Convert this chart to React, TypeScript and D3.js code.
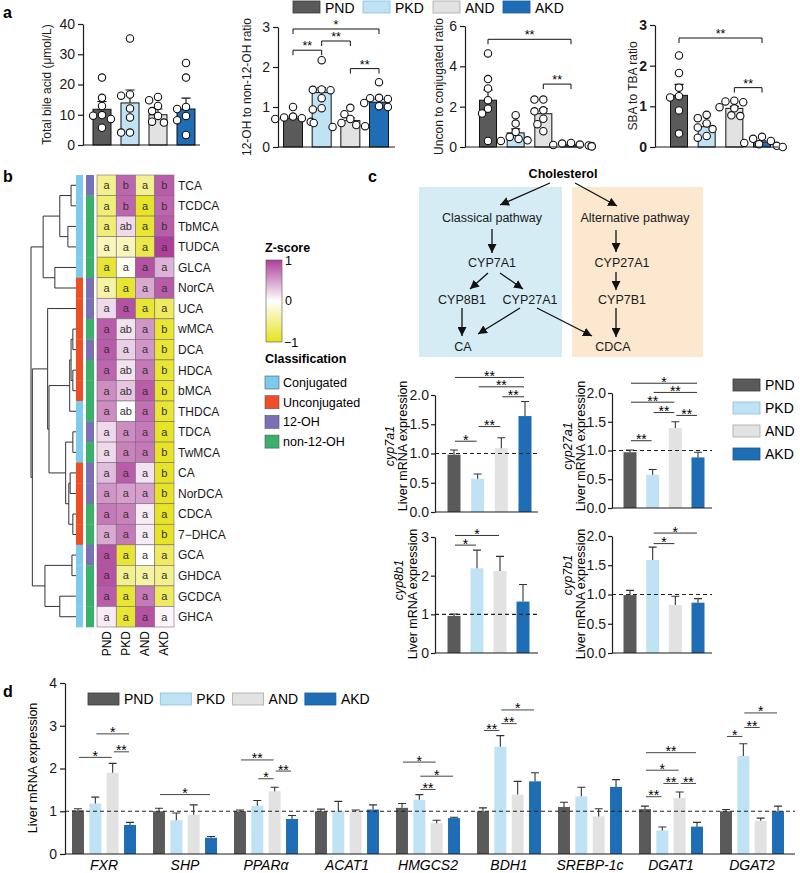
import React, { useEffect, useRef } from 'react';
import * as d3 from 'd3';

const FONT = 'Arial, "Liberation Sans", Helvetica, sans-serif';

const groups = ['PND', 'PKD', 'AND', 'AKD'];
const groupFill = ['#5a5a5a', '#bfe3f5', '#e2e2e2', '#1f6db4'];
const groupEdge = ['#3a3a3a', '#8dbdd6', '#a8a8a8', '#17599a'];

type Sig = [number, number, number, string];

// a - serum bile acids
const tbaMean = [11.8, 13.9, 10.0, 11.9];
const tbaSem = [2.6, 4.3, 1.9, 3.6];
const tbaDots = [
  [22.3, 15.6, 12.9, 9.9, 9.7, 8.6, 5.7],
  [35.2, 16.7, 16.3, 12.1, 9.1, 4.1, 4.1],
  [15.9, 14.8, 12.9, 11.2, 9.6, 7.7, 7.4],
  [27.1, 22.3, 12.6, 11.9, 9.6, 8.2, 3.3],
];
const ohMean = [0.72, 1.36, 0.66, 1.12];
const ohSem = [0.05, 0.12, 0.07, 0.07];
const ohDots = [
  [1.0, 0.76, 0.74, 0.72, 0.7, 0.63, 0.6],
  [2.17, 1.44, 1.43, 1.42, 1.22, 0.97, 0.94],
  [0.98, 0.82, 0.7, 0.6, 0.55, 0.52, 0.5],
  [1.62, 1.23, 1.22, 1.2, 1.1, 1.02, 1.0],
];
const ohSig: Sig[] = [[0, 3, 2.95, '*'], [0, 1, 2.42, '**'], [1, 2, 2.65, '**'], [2, 3, 1.96, '**']];
const unconMean = [2.32, 0.7, 1.65, 0.1];
const unconSem = [0.5, 0.2, 0.25, 0.03];
const unconDots = [
  [4.64, 3.37, 2.9, 2.32, 1.9, 1.66, 0.3],
  [1.58, 1.16, 0.75, 0.5, 0.4, 0.33, 0.3],
  [2.35, 2.35, 1.82, 1.77, 1.4, 1.13, 0.78],
  [0.2, 0.17, 0.12, 0.1, 0.08, 0.05, 0.03],
];
const unconSig: Sig[] = [[0, 3, 5.34, '**'], [2, 3, 3.12, '**']];
const sbaMean = [1.27, 0.5, 0.95, 0.12];
const sbaSem = [0.27, 0.08, 0.05, 0.03];
const sbaDots = [
  [2.25, 1.82, 1.46, 1.25, 1.22, 0.9, 0.33],
  [0.79, 0.71, 0.58, 0.48, 0.44, 0.27, 0.23],
  [1.14, 1.12, 1.1, 0.98, 0.95, 0.78, 0.76],
  [0.25, 0.2, 0.15, 0.1, 0.07, 0.03, 0.0],
];
const sbaSig: Sig[] = [[0, 3, 2.68, '**'], [2, 3, 1.46, '**']];

// b - heatmap
const baNames = ['TCA', 'TCDCA', 'TbMCA', 'TUDCA', 'GLCA', 'NorCA', 'UCA', 'wMCA', 'DCA', 'HDCA', 'bMCA', 'THDCA',
  'TDCA', 'TwMCA', 'CA', 'NorDCA', 'CDCA', '7\u2212DHCA', 'GCA', 'GHDCA', 'GCDCA', 'GHCA'];
const baZ = [
  [-0.5, 0.8, -0.5, 0.85], [-0.6, 0.8, -0.95, 0.8], [-0.6, 0.2, -0.9, 0.85], [-0.3, -0.3, -0.8, 1.0],
  [-0.9, -0.05, 0.9, 0.4], [-0.4, -0.9, 0.45, 0.85], [0.2, 0.9, -0.9, -0.7], [0.85, 0.15, 0.55, -0.9],
  [0.85, 0.25, 0.55, -0.9], [0.8, 0.15, 0.7, -0.9], [0.6, 0.3, 0.85, -0.9], [0.6, 0.0, 0.75, -0.9],
  [0.2, 0.6, 0.7, -0.95], [0.2, 0.65, 0.7, -0.95], [0.35, 0.85, 0.15, -0.95], [0.55, 0.5, 0.5, -0.95],
  [0.7, 0.65, 0.1, -0.95], [0.45, 0.7, 0.1, -0.95], [0.9, -0.9, 0.0, -0.7], [0.9, -0.5, -0.4, -0.5],
  [0.85, -0.9, 0.7, -0.7], [0.1, -0.9, 0.9, 0.05],
];
const baLetters = ['a b a b', 'a b a b', 'a ab a b', 'a a a a', 'a a a a', 'a a a a', 'a a a a', 'a ab a b',
  'a a a b', 'a ab a b', 'a ab a b', 'a ab a b', 'a a a a', 'a a a b', 'a a a b', 'a a a b', 'a a a a',
  'a a a b', 'a a a a', 'a a a a', 'a a a a', 'a a a a'];
const baConj = 'CCCCCUUUUUUCCCUUUUCCCC'.split('');
const baOH = ['12', 'n', 'n', 'n', 'n', '12', '12', 'n', '12', 'n', 'n', 'n', '12', 'n', '12', '12', 'n', 'n', '12', 'n', 'n', 'n'];
// hclust-style merges: negative = leaf (1-based), positive = earlier merge; third = height
const baMerge: [number, number, number][] = [
  [-1, -2, 0.11], [-3, -4, 0.18], [1, 2, 0.36], [-5, -6, 0.47], [3, 4, 0.73],
  [-8, -9, 0.07], [-10, -11, 0.07], [6, 7, 0.11], [8, -12, 0.14],
  [-13, -14, 0.07], [-15, -16, 0.13], [-17, -18, 0.07], [11, 12, 0.16], [10, 13, 0.23],
  [9, 14, 0.6], [-7, 15, 0.63], [-19, -20, 0.09], [-21, -22, 0.36], [17, 18, 0.69],
  [16, 19, 0.97], [5, 20, 1.0],
];
const classLabels = ['Conjugated', 'Unconjugated', '12-OH', 'non-12-OH'];
const classColors = ['#7ccaec', '#ef4e25', '#7a70b5', '#3bb06a'];

// c - hepatic bile acid synthesis genes
const cyp7a1Mean = [0.98, 0.57, 1.09, 1.64];
const cyp7a1Sem = [0.08, 0.08, 0.18, 0.25];
const cyp7a1Sig: Sig[] = [[0, 1, 1.21, '*'], [1, 2, 1.46, '**'], [2, 3, 1.97, '**'], [1, 3, 2.14, '**'], [0, 3, 2.3, '**']];
const cyp27a1Mean = [0.97, 0.58, 1.39, 0.88];
const cyp27a1Sem = [0.04, 0.09, 0.11, 0.09];
const cyp27a1Sig: Sig[] = [[0, 1, 1.17, '**'], [2, 3, 1.61, '**'], [1, 2, 1.66, '**'], [0, 2, 1.84, '**'], [1, 3, 2.01, '**'], [0, 3, 2.17, '*']];
const cyp8b1Mean = [0.96, 2.19, 2.12, 1.33];
const cyp8b1Sem = [0.05, 0.47, 0.38, 0.44];
const cyp8b1Sig: Sig[] = [[0, 1, 2.79, '*'], [0, 2, 3.04, '*']];
const cyp7b1Mean = [0.99, 1.59, 0.82, 0.86];
const cyp7b1Sem = [0.08, 0.22, 0.15, 0.07];
const cyp7b1Sig: Sig[] = [[1, 2, 1.87, '*'], [1, 3, 2.05, '*']];

// d - lipid / bile acid genes
const genes = ['FXR', 'SHP', 'PPAR\u03b1', 'ACAT1', 'HMGCS2', 'BDH1', 'SREBP-1c', 'DGAT1', 'DGAT2'];
const geneMean = [
  [1.02, 1.18, 1.9, 0.68], [1.0, 0.79, 0.92, 0.38], [1.0, 1.13, 1.47, 0.82], [1.0, 1.0, 1.0, 1.04],
  [1.08, 1.27, 0.72, 0.84], [1.0, 2.51, 1.39, 1.7], [1.1, 1.35, 0.88, 1.57], [1.05, 0.55, 1.31, 0.64],
  [1.0, 2.29, 0.78, 1.0],
];
const geneSem = [
  [0.04, 0.15, 0.22, 0.06], [0.07, 0.17, 0.23, 0.03], [0.03, 0.12, 0.09, 0.08], [0.05, 0.23, 0.03, 0.11],
  [0.1, 0.12, 0.07, 0.02], [0.08, 0.26, 0.31, 0.2], [0.11, 0.21, 0.18, 0.17], [0.07, 0.08, 0.14, 0.1],
  [0.04, 0.29, 0.06, 0.12],
];
const geneSig: [number, number, number, number, string][] = [
  [0, 0, 2, 2.26, '*'], [0, 2, 3, 2.39, '**'], [0, 1, 3, 2.81, '*'],
  [1, 0, 3, 1.39, '*'],
  [2, 1, 2, 1.76, '*'], [2, 2, 3, 1.94, '**'], [2, 0, 2, 2.2, '**'],
  [4, 1, 2, 1.51, '**'], [4, 1, 3, 1.82, '*'], [4, 0, 2, 2.15, '*'],
  [5, 0, 1, 2.89, '**'], [5, 1, 2, 3.05, '**'], [5, 1, 3, 3.37, '*'],
  [7, 0, 1, 1.34, '**'], [7, 1, 2, 1.65, '**'], [7, 2, 3, 1.65, '**'], [7, 0, 2, 1.96, '*'], [7, 0, 3, 2.37, '**'],
  [8, 0, 1, 2.75, '*'], [8, 1, 2, 2.96, '**'], [8, 1, 3, 3.3, '*'],
];

const intFmt = d3.format('d');
const oneDec = d3.format('.1f');

function AxisLeft({ scale, x, ticks, format, size = 14, bold = false, tick = 5, pad = 3 }: any) {
  const ref = useRef<SVGGElement>(null);
  useEffect(() => {
    if (!ref.current) return;
    const axis = d3.axisLeft(scale).tickValues(ticks).tickSize(tick).tickSizeOuter(0).tickPadding(pad);
    if (format) axis.tickFormat(format);
    const g = d3.select(ref.current).call(axis);
    g.attr('font-family', FONT).attr('font-size', size);
    g.selectAll('text').attr('fill', '#1a1a1a').attr('font-weight', bold ? 'bold' : 'normal');
    g.selectAll('path,line').attr('stroke', '#1a1a1a').attr('stroke-width', 1.2);
  });
  return <g ref={ref} transform={`translate(${x},0)`} />;
}

function swarm(vals: number[], y: any, cx: number, r: number) {
  const placed: { x: number; y: number }[] = [];
  vals.map((v) => y(v)).sort((a, b) => a - b).forEach((py) => {
    let px = cx;
    for (let k = 0; k < 15; k++) {
      const off = k === 0 ? 0 : (k % 2 ? -1 : 1) * Math.ceil(k / 2) * r * 0.8;
      px = cx + off;
      if (placed.every((q) => (q.x - px) ** 2 + (q.y - py) ** 2 >= (2 * r) ** 2)) break;
    }
    placed.push({ x: px, y: py });
  });
  return placed;
}

function DotBarChart({ axisX, xEnd, first, last, barW, y0, y1, max, ticks, mean, sem, dots, sig = [], title, titleX, bold }: any) {
  const y = d3.scaleLinear().domain([0, max]).range([y0, y1]);
  const x = d3.scalePoint().domain(groups).range([first, last]);
  return (
    <g>
      {mean.map((m: number, i: number) => {
        const cx = x(groups[i])!;
        const top = y(m + sem[i]);
        return (
          <g key={i}>
            <rect x={cx - barW / 2} y={y(m)} width={barW} height={y(0) - y(m)} fill={groupFill[i]} stroke="#111" strokeWidth={1} />
            <path d={`M${cx},${y(m)}V${top}M${cx - 4.5},${top}H${cx + 4.5}`} stroke="#111" strokeWidth={1.1} fill="none" />
          </g>
        );
      })}
      {dots.map((vals: number[], i: number) =>
        swarm(vals, y, x(groups[i])!, 3.7).map((p, j) => (
          <circle key={`${i}-${j}`} cx={p.x} cy={p.y} r={3.7} fill="#fff" stroke="#111" strokeWidth={1.1} />
        )),
      )}
      <line x1={axisX} x2={xEnd} y1={y0} y2={y0} stroke="#1a1a1a" strokeWidth={1.2} />
      <AxisLeft scale={y} x={axisX} ticks={ticks} bold={bold} format={intFmt} />
      {sig.map(([a, b, v, lab]: Sig, k: number) => {
        const xa = x(groups[a])!;
        const xb = x(groups[b])!;
        const yl = y(v);
        return (
          <g key={k}>
            <path d={`M${xa},${yl + 5}V${yl}H${xb}V${yl + 5}`} stroke="#111" strokeWidth={1} fill="none" />
            <text x={(xa + xb) / 2} y={yl} textAnchor="middle" fontSize={12.5} fontFamily={FONT}>{lab}</text>
          </g>
        );
      })}
      <text transform={`translate(${titleX},${(y0 + y1) / 2}) rotate(-90)`} textAnchor="middle" fontSize={12} fontFamily={FONT} fill="#1a1a1a">{title}</text>
    </g>
  );
}

function ExprChart({ axisX, xEnd, first, last, y0, y1, max, ticks, fmt, mean, sem, sig, gene, geneX, titleX, geneY, titleY }: any) {
  const y = d3.scaleLinear().domain([0, max]).range([y0, y1]);
  const x = d3.scalePoint().domain(groups).range([first, last]);
  const barW = 13;
  return (
    <g>
      {mean.map((m: number, i: number) => {
        const cx = x(groups[i])!;
        const top = y(m + sem[i]);
        return (
          <g key={i}>
            <rect x={cx - barW / 2} y={y(m)} width={barW} height={y(0) - y(m)} fill={groupFill[i]} />
            <path d={`M${cx},${y(m)}V${top}M${cx - 4},${top}H${cx + 4}`} stroke="#333" strokeWidth={1.1} fill="none" />
          </g>
        );
      })}
      <line x1={axisX} x2={xEnd} y1={y(1)} y2={y(1)} stroke="#222" strokeWidth={1.1} strokeDasharray="4,3" />
      <line x1={axisX} x2={xEnd} y1={y0} y2={y0} stroke="#1a1a1a" strokeWidth={1.2} />
      <AxisLeft scale={y} x={axisX} ticks={ticks} format={fmt} tick={4} pad={2} />
      {sig.map(([a, b, v, lab]: Sig, k: number) => {
        const xa = x(groups[a])!;
        const xb = x(groups[b])!;
        const yl = y(v);
        return (
          <g key={k}>
            <line x1={xa + 1} x2={xb - 1} y1={yl} y2={yl} stroke="#333" strokeWidth={1} />
            <text x={(xa + xb) / 2} y={yl + 3.5} textAnchor="middle" fontSize={14} fontFamily={FONT}>{lab}</text>
          </g>
        );
      })}
      <text transform={`translate(${geneX},${geneY}) rotate(-90)`} textAnchor="middle" fontSize={12.5} fontStyle="italic" fontFamily={FONT}>{gene}</text>
      <text transform={`translate(${titleX},${titleY}) rotate(-90)`} textAnchor="middle" fontSize={12.5} fontFamily={FONT}>Liver mRNA expression</text>
    </g>
  );
}

function Heatmap() {
  const x = d3.scaleBand().domain(groups).range([97, 174]);
  const rows = d3.scaleBand().domain(baNames).range([175, 627]);
  const z = d3.scaleLinear<string>().domain([-1, 0, 1]).range(['#e6e21c', '#ffffff', '#ad3f9a']);
  const hx = d3.scaleLinear().domain([0, 1]).range([76, 31]);
  // dendrogram from merge table
  const nodes: { y: number; h: number }[] = [];
  const segs: string[] = [];
  const ref = (k: number) => (k < 0 ? { y: rows(baNames[-k - 1])! + rows.bandwidth() / 2, h: 0 } : nodes[k - 1]);
  baMerge.forEach(([a, b, h]) => {
    const na = ref(a);
    const nb = ref(b);
    const xn = hx(h);
    segs.push(`M${hx(na.h)},${na.y}H${xn}V${nb.y}H${hx(nb.h)}`);
    nodes.push({ y: (na.y + nb.y) / 2, h });
  });
  return (
    <g fontFamily={FONT}>
      {segs.map((d, i) => <path key={i} d={d} fill="none" stroke="#333" strokeWidth={1} />)}
      {baNames.map((n, r) => (
        <g key={n}>
          <rect x={76} y={rows(n)} width={7} height={rows.bandwidth() + 0.3} fill={baConj[r] === 'C' ? classColors[0] : classColors[1]} />
          <rect x={86} y={rows(n)} width={8} height={rows.bandwidth() + 0.3} fill={baOH[r] === '12' ? classColors[2] : classColors[3]} />
          {groups.map((g, c) => (
            <g key={g}>
              <rect x={x(g)} y={rows(n)} width={x.bandwidth()} height={rows.bandwidth()} fill={z(baZ[r][c])} stroke="#7a6a7a" strokeWidth={0.6} />
              <text x={x(g)! + x.bandwidth() / 2} y={rows(n)! + rows.bandwidth() / 2} dy="0.35em" textAnchor="middle" fontSize={11} fill="#333">{baLetters[r].split(' ')[c]}</text>
            </g>
          ))}
          <text x={178} y={rows(n)! + rows.bandwidth() / 2} dy="0.36em" fontSize={12} fill="#1a1a1a">{n}</text>
        </g>
      ))}
      {groups.map((g) => (
        <text key={g} transform={`translate(${x(g)! + x.bandwidth() / 2 + 4},${631}) rotate(-90)`} textAnchor="end" fontSize={12}>{g}</text>
      ))}
      <defs>
        <linearGradient id="zgrad" x1="0" y1="0" x2="0" y2="1">
          <stop offset="0%" stopColor={z(1)} />
          <stop offset="50%" stopColor={z(0)} />
          <stop offset="100%" stopColor={z(-1)} />
        </linearGradient>
      </defs>
      <text x={265} y={252} fontSize={12.5} fontWeight="bold">Z-score</text>
      <rect x={266} y={260} width={16} height={82} fill="url(#zgrad)" stroke="#555" strokeWidth={0.6} />
      <text x={285} y={265} fontSize={12.5}>1</text>
      <text x={285} y={305} fontSize={12.5}>0</text>
      <text x={284} y={347} fontSize={12.5}>{'\u22121'}</text>
      <text x={265} y={363} fontSize={12.5} fontWeight="bold">Classification</text>
      {classLabels.map((l, i) => (
        <g key={l}>
          <rect x={265} y={376 + i * 19.7} width={14} height={13} fill={classColors[i]} stroke="#555" strokeWidth={0.6} />
          <text x={283} y={387 + i * 19.7} fontSize={12.5}>{l}</text>
        </g>
      ))}
    </g>
  );
}

function Pathway() {
  const arrows: [number, number, number, number][] = [
    [550, 183, 500, 205], [575, 183, 617, 206], [492, 229, 492, 253], [488, 273, 470, 289],
    [500, 273, 523, 289], [462, 308, 462, 336], [520, 308, 478, 334], [537, 308, 592, 336],
    [616, 230, 616, 252], [616, 272, 616, 290], [616, 308, 616, 337],
  ];
  const labels: [string, number, number][] = [
    ['Classical pathway', 492, 218], ['Alternative pathway', 635, 218], ['CYP7A1', 492, 263],
    ['CYP8B1', 462, 300], ['CYP27A1', 530, 300], ['CA', 463, 347], ['CDCA', 613, 347],
    ['CYP27A1', 622, 263], ['CYP7B1', 622, 300],
  ];
  return (
    <g fontFamily={FONT}>
      <defs>
        <marker id="ah" viewBox="0 0 10 10" refX="10" refY="5" markerWidth="9" markerHeight="9" markerUnits="userSpaceOnUse" orient="auto">
          <path d="M0,0L10,5L0,10z" fill="#111" />
        </marker>
      </defs>
      <rect x={419} y={187} width={143} height={170} fill="#d5ecf5" />
      <rect x={572} y={187} width={131} height={170} fill="#fce7cf" />
      <text x={563} y={174} dy="0.35em" textAnchor="middle" fontSize={12.5} fontWeight="bold">Cholesterol</text>
      {labels.map(([t, lx, ly], i) => (
        <text key={i} x={lx} y={ly} dy="0.35em" textAnchor="middle" fontSize={12.5} fill="#1a1a1a">{t}</text>
      ))}
      {arrows.map(([x1, y1, x2, y2], i) => (
        <line key={i} x1={x1} y1={y1} x2={x2} y2={y2} stroke="#111" strokeWidth={1.3} markerEnd="url(#ah)" />
      ))}
    </g>
  );
}

function GeneChart() {
  const x0 = d3.scaleBand().domain(genes).range([63.5, 792.5]);
  const x1 = d3.scaleBand().domain(groups).range([8.5, 72.5]).paddingInner(0.31);
  const y = d3.scaleLinear().domain([0, 4]).range([854, 683]);
  const cx = (g: number, k: number) => x0(genes[g])! + x1(groups[k])! + x1.bandwidth() / 2;
  return (
    <g fontFamily={FONT}>
      {genes.map((g, gi) => (
        <g key={g}>
          {groups.map((grp, k) => {
            const m = geneMean[gi][k];
            const top = y(m + geneSem[gi][k]);
            const c = cx(gi, k);
            return (
              <g key={grp}>
                <rect x={c - x1.bandwidth() / 2} y={y(m)} width={x1.bandwidth()} height={y(0) - y(m)} fill={groupFill[k]} />
                <path d={`M${c},${y(m)}V${top}M${c - 4},${top}H${c + 4}`} stroke="#333" strokeWidth={1.1} fill="none" />
              </g>
            );
          })}
          <text x={x0(g)! + 40.5} y={870} textAnchor="middle" fontSize={14} fontStyle="italic">{g}</text>
        </g>
      ))}
      <line x1={65} x2={795} y1={y(1)} y2={y(1)} stroke="#222" strokeWidth={1.1} strokeDasharray="4,3" />
      <line x1={65} x2={795} y1={y(0)} y2={y(0)} stroke="#1a1a1a" strokeWidth={1.2} />
      <AxisLeft scale={y} x={65} ticks={[0, 1, 2, 3, 4]} format={intFmt} />
      {geneSig.map(([g, a, b, v, lab], k) => {
        const xa = cx(g, a);
        const xb = cx(g, b);
        return (
          <g key={k}>
            <line x1={xa + 1} x2={xb - 1} y1={y(v)} y2={y(v)} stroke="#444" strokeWidth={1} />
            <text x={(xa + xb) / 2} y={y(v) + 3.5} textAnchor="middle" fontSize={14}>{lab}</text>
          </g>
        );
      })}
      <text transform={`translate(37,768) rotate(-90)`} textAnchor="middle" fontSize={12.5}>Liver mRNA expression</text>
      {groups.map((grp, k) => (
        <g key={grp}>
          <rect x={88 + k * 72.3} y={693} width={31} height={12} fill={groupFill[k]} stroke={groupEdge[k]} strokeWidth={0.8} />
          <text x={124 + k * 72.3} y={704} fontSize={14}>{grp}</text>
        </g>
      ))}
    </g>
  );
}

export default function App() {
  return (
    <div style={{ position: 'absolute', left: 0, top: 0 }}>
      <svg width={800} height={873} style={{ display: 'block', background: '#fff' }} fontFamily={FONT}>
        <text x={3} y={18} fontSize={16} fontWeight="bold">a</text>
        <text x={3} y={182} fontSize={16} fontWeight="bold">b</text>
        <text x={368} y={182} fontSize={16} fontWeight="bold">c</text>
        <text x={3} y={697} fontSize={16} fontWeight="bold">d</text>

        {groups.map((g, k) => (
          <g key={g}>
            <rect x={293 + k * 70} y={1} width={27} height={12} fill={groupFill[k]} stroke={groupEdge[k]} strokeWidth={0.8} />
            <text x={325 + k * 70} y={12.5} fontSize={14} fontFamily={FONT}>{g}</text>
          </g>
        ))}
        <DotBarChart axisX={83} xEnd={200} first={102} last={186} barW={18} y0={145} y1={24} max={40} ticks={[0, 10, 20, 30, 40]}
          mean={tbaMean} sem={tbaSem} dots={tbaDots} title={'Total bile acid (\u03bcmol/L)'} titleX={51} />
        <DotBarChart axisX={278} xEnd={395} first={293} last={379} barW={19} y0={147} y1={27} max={3} ticks={[0, 1, 2, 3]}
          mean={ohMean} sem={ohSem} dots={ohDots} sig={ohSig} title="12-OH to non-12-OH ratio" titleX={251} />
        <DotBarChart axisX={465} xEnd={582} first={488} last={571} barW={17} y0={147} y1={26} max={6} ticks={[0, 2, 4, 6]}
          mean={unconMean} sem={unconSem} dots={unconDots} sig={unconSig} title="Uncon to conjugated ratio" titleX={443} />
        <DotBarChart axisX={655} xEnd={778} first={679} last={762} barW={17} y0={147} y1={25} max={3} ticks={[0, 1, 2, 3]}
          mean={sbaMean} sem={sbaSem} dots={sbaDots} sig={sbaSig} title="SBA to TBA ratio" titleX={637} bold />

        <Heatmap />
        <Pathway />

        <ExprChart axisX={435} xEnd={538} first={454} last={525} y0={512} y1={395} max={2} ticks={[0, 0.5, 1, 1.5, 2]} fmt={oneDec}
          mean={cyp7a1Mean} sem={cyp7a1Sem} sig={cyp7a1Sig} gene="cyp7a1" geneX={394} titleX={407} geneY={446} titleY={446} />
        <ExprChart axisX={612} xEnd={712} first={630} last={698} y0={508} y1={393} max={2} ticks={[0, 0.5, 1, 1.5, 2]} fmt={oneDec}
          mean={cyp27a1Mean} sem={cyp27a1Sem} sig={cyp27a1Sig} gene="cyp27a1" geneX={572} titleX={585} geneY={446} titleY={446} />
        <ExprChart axisX={435} xEnd={538} first={454} last={523} y0={653} y1={537} max={3} ticks={[0, 1, 2, 3]} fmt={intFmt}
          mean={cyp8b1Mean} sem={cyp8b1Sem} sig={cyp8b1Sig} gene="cyp8b1" geneX={403} titleX={417} geneY={580} titleY={594} />
        <ExprChart axisX={612} xEnd={712} first={630} last={698} y0={653} y1={536} max={2} ticks={[0, 0.5, 1, 1.5, 2]} fmt={oneDec}
          mean={cyp7b1Mean} sem={cyp7b1Sem} sig={cyp7b1Sig} gene="cyp7b1" geneX={572} titleX={585} geneY={575} titleY={594} />

        {groups.map((g, k) => (
          <g key={g}>
            <rect x={733} y={379 + k * 23} width={27} height={12} fill={groupFill[k]} stroke={groupEdge[k]} strokeWidth={0.8} />
            <text x={765} y={390 + k * 23} fontSize={14} fontFamily={FONT}>{g}</text>
          </g>
        ))}

        <GeneChart />
      </svg>
    </div>
  );
}
